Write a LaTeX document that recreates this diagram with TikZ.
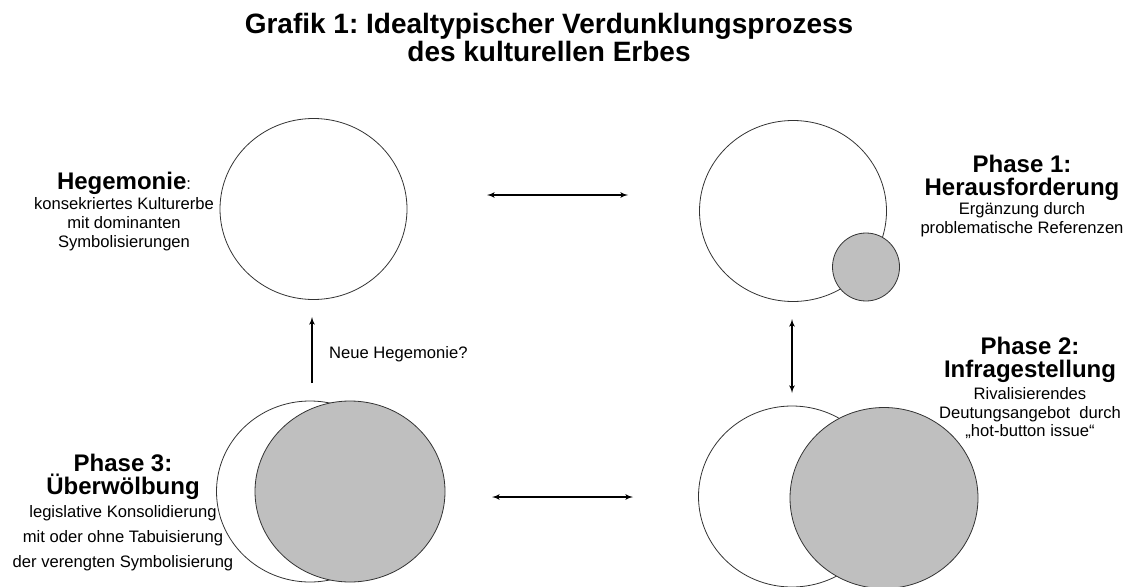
\documentclass[tikz,border=0pt]{standalone}
\usepackage{fontspec}
\setmainfont{Liberation Sans}
\usetikzlibrary{arrows}
\usetikzlibrary{positioning}
\usetikzlibrary{shapes.geometric}
\frenchspacing
\tikzset{ring/.style = {draw = black!80, line width = 0.8pt, ellipse, inner sep = 0,
                        minimum width = 187pt, minimum height = 181pt}}
\tikzset{greyring/.style = {ring, fill = black!25}}
\tikzset{oneway/.style = {line width = 1.6pt, -latex'}}
\tikzset{twoway/.style = {line width = 1.6pt, latex'-latex'}}
\tikzset{head/.style = {font = \fontsize{24}{23}\selectfont\bfseries, align = center, inner sep = 0}}
\tikzset{body/.style = {font = \fontsize{16.6}{19}\selectfont, align = center, inner sep = 0}}

\begin{document}
\begin{tikzpicture}[x = 1pt, y = -1pt]
      \useasboundingbox (0, 0) rectangle (1129, 586);

      \node [font = \fontsize{28}{28}\selectfont\bfseries, align = center, anchor = base] (title)
            at (549, 61) {Grafik 1: Idealtypischer Verdunklungsprozess\\des kulturellen Erbes};

      \node [ring] (hegem) at (313.5, 209) {};
      \node [ring] (ph1) at (793, 211) {};
      \node [greyring, minimum width = 67pt, minimum height = 68pt] (ph1b) at (866, 267) {};
      \node [ring] (ph3) at (310, 491.5) {};
      \node [greyring, minimum width = 190pt] (ph3b) at (350, 491.5) {};
      \node [ring] (ph2) at (792, 496.5) {};
      \node [greyring, minimum width = 188pt] (ph2b) at (884, 498) {};

      \coordinate (top1) at (487, 195);
      \coordinate (top2) at (628, 195);
      \coordinate (bot1) at (492, 497);
      \coordinate (bot2) at (633, 497);
      \coordinate (up1) at (312, 383);
      \coordinate (up2) at (312, 317);
      \coordinate (rt1) at (792, 319);
      \coordinate (rt2) at (792, 393);

      \draw [twoway] (top1) -- (top2);
      \draw [twoway] (bot1) -- (bot2);
      \draw [twoway] (rt1) -- (rt2);
      \draw [oneway] (up1) -- (up2);

      \node [body, anchor = base west] (neu) at (329, 358) {Neue Hegemonie?};

      \node [head, anchor = base] (hegtxt) at (124, 189)
            {Hegemonie{\mdseries\fontsize{16.6}{19}\selectfont:}};
      \node [body, below = 3pt of hegtxt] (hegsub)
            {konsekriertes Kulturerbe\\mit dominanten\\Symbolisierungen};

      \node [head, anchor = base] (ph1txt) at (1022, 195) {Phase 1:\\Herausforderung};
      \node [body, below = 2pt of ph1txt] (ph1sub) {Ergänzung durch\\problematische Referenzen};

      \node [head, anchor = base] (ph2txt) at (1030, 377) {Phase 2:\\Infragestellung};
      \node [body, below = 5pt of ph2txt, font = \fontsize{16.6}{18.5}\selectfont] (ph2sub)
            {Rivalisierendes\\Deutungsangebot~~durch\\„hot-button issue“};

      \node [head, anchor = base] (ph3txt) at (123, 494) {Phase 3:\\Überwölbung};
      \node [body, below = 6pt of ph3txt, font = \fontsize{16.6}{25}\selectfont] (ph3sub)
            {legislative Konsolidierung\\mit oder ohne Tabuisierung\\der verengten Symbolisierung};
\end{tikzpicture}
\end{document}
